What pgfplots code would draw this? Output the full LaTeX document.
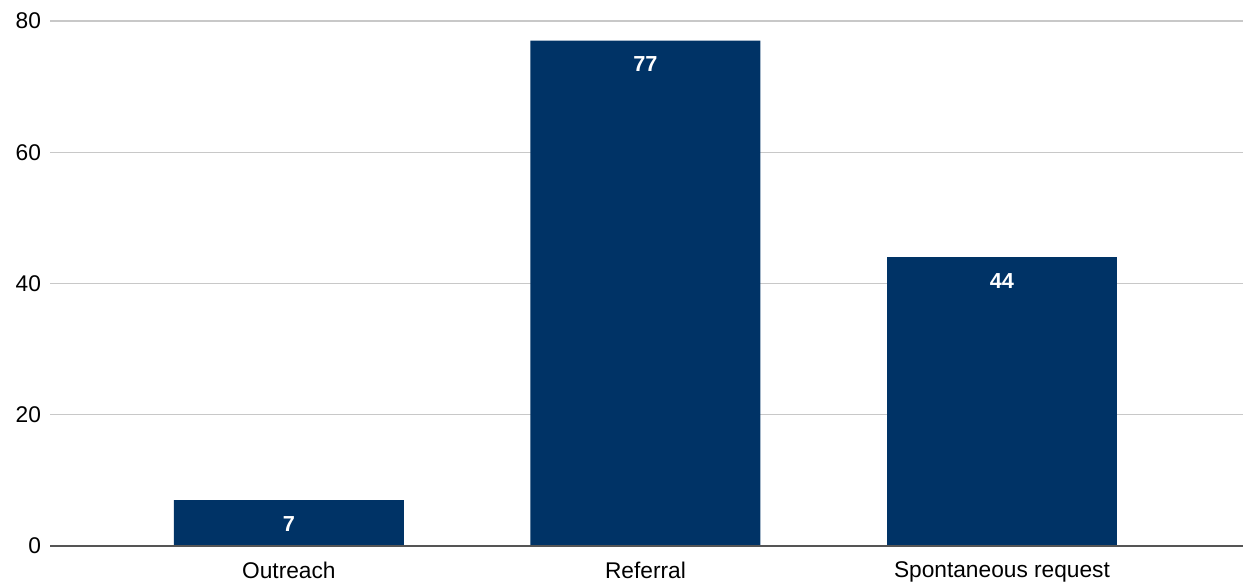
\documentclass[border=0pt]{standalone}
\usepackage{fontspec}
\setmainfont{Liberation Sans}
\usepackage{pgfplots}
\pgfplotsset{compat=1.18}
\usetikzlibrary{calc}
\definecolor{barblue}{HTML}{003366}
\definecolor{gridgray}{HTML}{C8C8C8}
\definecolor{axisgray}{HTML}{555555}

\begin{document}
\begin{tikzpicture}
\begin{axis}[
    scale only axis,
    width=596.5bp, height=262.5bp,
    xmin=-0.670, xmax=2.676,
    ymin=0, ymax=80,
    ytick={0,20,40,60,80},
    xtick={0,1,2},
    xticklabels={Outreach, Referral, Spontaneous request},
    axis line style={draw=none},
    major tick length=0pt,
    ymajorgrids,
    grid style={gridgray, line width=0.7bp},
    tick label style={font=\fontsize{11.4}{13}\selectfont, text=black},
    /pgf/number format/assume math mode=true,
    yticklabel style={xshift=-1bp},
    xticklabel style={yshift=-4.5bp},
    ybar, bar width=0.645,
    nodes near coords,
    every node near coord/.append style={
        font=\fontsize{10.9}{12}\bfseries, text=white, anchor=center, yshift=-11.8bp},
    clip=false,
]
\addplot[fill=barblue, draw=none] coordinates {(0,7) (1,77) (2,44)};
\draw[axisgray, line width=1bp] (rel axis cs:0,0) -- (rel axis cs:1,0);
\coordinate (ll) at (rel axis cs:0,0);
\coordinate (ur) at (rel axis cs:1,1);
\end{axis}
\pgfresetboundingbox
\path ($(ll)+(-25bp,-18.5bp)$) rectangle ($(ur)+(0,10.5bp)$);
\end{tikzpicture}
\end{document}
